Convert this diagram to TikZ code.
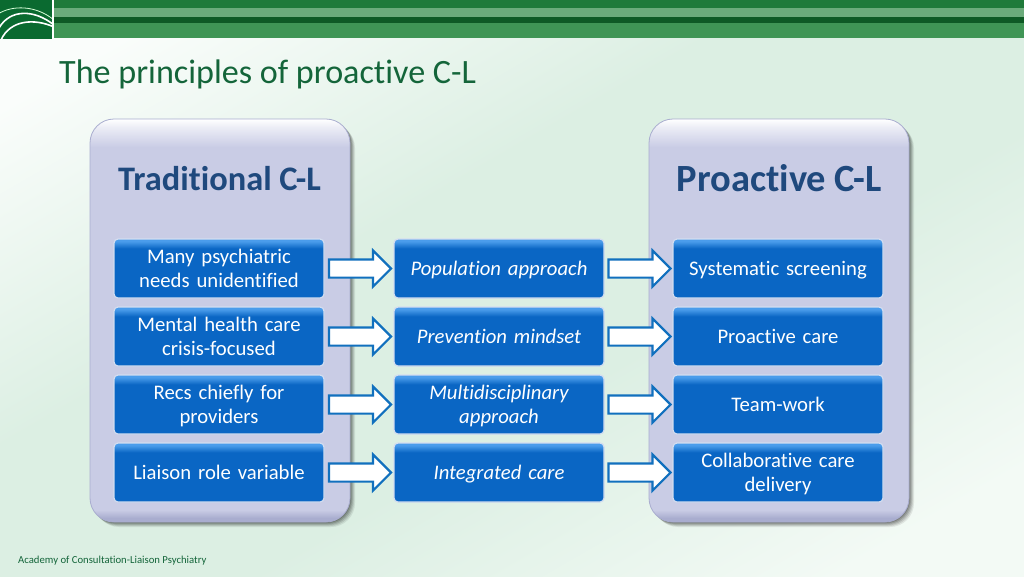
\documentclass[tikz,border=0pt]{standalone}
\usepackage{fontspec}
\setmainfont[Ligatures={NoCommon,NoRequired,NoContextual}]{Carlito}
\usetikzlibrary{shapes.arrows}
\definecolor{titlegreen}{HTML}{14653A}
\definecolor{headblue}{HTML}{1F497D}
\definecolor{boxblue}{HTML}{0A66C4}
\definecolor{boxtop}{HTML}{4A9CEB}
\definecolor{boxedge}{HTML}{D3DDF0}
\definecolor{panelfill}{HTML}{C9CCE5}
\definecolor{paneledge}{HTML}{A9ADCF}
\definecolor{arrowblue}{HTML}{1170BE}
\definecolor{bgedge}{HTML}{FAFDFB}
\definecolor{bgmid}{HTML}{DCEFE3}
\definecolor{bgend}{HTML}{F3FAF5}
\definecolor{bandA}{HTML}{1F7A3A}
\definecolor{bandB}{HTML}{6BAB7B}
\definecolor{bandC}{HTML}{0E5A25}
\definecolor{bandD}{HTML}{3F9555}
\definecolor{logogreen}{HTML}{0A6A30}
\pgfdeclareverticalshading{boxshade}{100bp}{color(0bp)=(boxblue); color(67bp)=(boxblue); color(73bp)=(boxtop); color(100bp)=(boxtop)}
\pgfdeclareverticalshading{panelshade}{100bp}{color(0bp)=(paneledge); color(25.5bp)=(paneledge); color(26.5bp)=(panelfill); color(71.5bp)=(panelfill); color(74bp)=(white!65!panelfill); color(75bp)=(white); color(100bp)=(white)}
\pgfdeclareverticalshading{pageshade}{100bp}{color(0bp)=(bgend); color(22bp)=(bgend); color(42bp)=(bgmid); color(58bp)=(bgmid); color(78bp)=(bgedge); color(100bp)=(bgedge)}
\tikzset{
  panel/.style={draw=paneledge,line width=0.8pt,rounded corners=24pt,shading=panelshade,minimum width=260pt,minimum height=403pt,inner sep=0pt},
  panelsoft/.style={draw=none,rounded corners=24pt,minimum width=260pt,minimum height=403pt,inner sep=0pt},
  cell/.style={draw=boxedge,line width=1.2pt,rounded corners=4pt,shading=boxshade,minimum width=210pt,minimum height=59pt,inner sep=0pt,text=white,align=center,text width=204pt,font=\fontsize{20.7}{23.8}\selectfont,execute at begin node=\rule{0pt}{20.5pt},execute at end node=\strut},
  flow/.style={single arrow,draw=arrowblue,line width=2.2pt,fill=white,minimum height=62pt,minimum width=35pt,single arrow head extend=9pt,inner xsep=0pt,inner ysep=8pt,xshift=-3.5pt},
  paneltitle/.style={text=headblue,inner sep=0pt,anchor=center}
}
\begin{document}
\begin{tikzpicture}[x=1pt,y=-1pt]
\useasboundingbox (0,0) rectangle (1024,576);
% background
\path[shading=pageshade,shading angle=30] (0,0) rectangle (1024,576);
% top band
\fill[white] (0,0) rectangle (54,39);
\fill[bandA] (54,0) rectangle (1024,8);
\fill[bandB] (54,8) rectangle (1024,17);
\fill[bandC] (54,17) rectangle (1024,23);
\fill[bandD] (54,23) rectangle (1024,38);
% logo
\begin{scope}
\clip (0,0) rectangle (52,39);
\fill[logogreen] (0,0) rectangle (52,39);
\draw[white!85!green,line width=.8pt] (-2,14) .. controls (12,5) and (36,5) .. (54,20);
\draw[white,line width=1.6pt] (-1,28) .. controls (10,9) and (34,9) .. (54,25);
\draw[white,line width=1.6pt] (1,40) .. controls (10,20) and (34,18) .. (54,27);
\end{scope}
\node[anchor=base west,inner sep=0pt,text=titlegreen,font=\fontsize{34.1}{36}\selectfont] (title) at (59,83) {The principles of proactive C-L};
\node[anchor=base west,inner sep=0pt,text=titlegreen,font=\fontsize{10.7}{12}\selectfont] (foot) at (18,563) {Academy of Consultation-Liaison Psychiatry};
% panels with soft shadows
\foreach \d/\o in {5/.08,4/.10,3/.12,2/.14,1/.16}{
  \node[panelsoft,fill=black,opacity=\o] at (220+\d,320.5+\d) {};
  \node[panelsoft,fill=black,opacity=\o] at (779+\d,320.5+\d) {};
}
\node[panel] (pl) at (220,320.5) {};
\node[panel] (pr) at (779,320.5) {};
\node[paneltitle,font=\fontsize{34.4}{36}\bfseries\selectfont] (tl) at (219.5,178.5) {Traditional C-L};
\node[paneltitle,font=\fontsize{38.5}{40}\bfseries\selectfont] (tr) at (779,178) {Proactive C-L};
% cells
\node[cell] (a1) at (219,268.5) {Many psychiatric\\needs unidentified};
\node[cell] (a2) at (219,336.5) {Mental health care\\crisis-focused};
\node[cell] (a3) at (219,404.5) {Recs chiefly for\\providers};
\node[cell] (a4) at (219,472.5) {Liaison role variable};
\node[cell] (b1) at (499,268.5) {\itshape Population approach};
\node[cell] (b2) at (499,336.5) {\itshape Prevention mindset};
\node[cell] (b3) at (499,404.5) {\itshape Multidisciplinary\\\itshape approach};
\node[cell] (b4) at (499,472.5) {\itshape Integrated care};
\node[cell] (c1) at (778,268.5) {Systematic screening};
\node[cell] (c2) at (778,336.5) {Proactive care};
\node[cell] (c3) at (778,404.5) {Team-work};
\node[cell] (c4) at (778,472.5) {Collaborative care\\delivery};
% block arrows between cells
\foreach \i in {1,2,3,4}{
  \path (a\i.east) -- (b\i.west) node[flow,midway] {};
  \path (b\i.east) -- (c\i.west) node[flow,midway] {};
}
\end{tikzpicture}
\end{document}
